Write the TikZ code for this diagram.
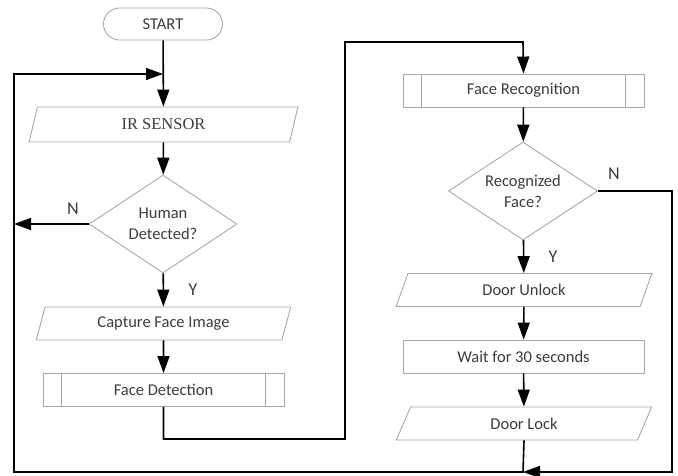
\documentclass[tikz,border=0pt]{standalone}
\usepackage{fontspec}
\setmainfont{Carlito}
\newfontfamily\irfont{Liberation Serif}
\usetikzlibrary{shapes.geometric,arrows.meta,positioning,calc}

\definecolor{boxline}{HTML}{A8A8A8}
\definecolor{boxtext}{HTML}{3C3C3C}

\tikzset{
    >={Triangle[length=17pt,width=12pt]},
    base/.style={draw=boxline, line width=0.9pt, text=boxtext, font=\fontsize{16.5}{18}\selectfont, inner sep=0pt},
    terminal/.style={base, rectangle, rounded corners=16pt, minimum width=119pt, minimum height=32pt},
    io/.style={base, trapezium, trapezium stretches=true, trapezium left angle=70, trapezium right angle=110, minimum height=33pt},
    process/.style={base, rectangle, minimum width=241pt, minimum height=33pt},
    decision/.style={base, diamond, aspect=1.5, minimum width=148pt, minimum height=98pt, align=center, font=\fontsize{16.5}{21}\selectfont},
    flow/.style={line width=1.6pt, black},
    branch/.style={text=boxtext, font=\fontsize{18}{20}\selectfont}
}

\begin{document}
\begin{tikzpicture}[x=1pt, y=-1pt]
    \useasboundingbox (0,0) rectangle (678,475);

    % left column
    \node[terminal] (start) at (163, 24) {START};
    \node[io, trapezium left angle=76, trapezium right angle=104, minimum width=271pt, minimum height=35pt,
          font=\irfont\fontsize{16.5}{18}\selectfont] (ir) at (163.5, 124.5) {IR SENSOR};
    \node[decision] (human) at (163, 224) {Human\\Detected?};
    \node[io, minimum width=255pt] (capture) at (163.5, 323.5) {Capture Face Image};
    \node[process] (fdet) at (163.5, 390) {Face Detection};

    % right column
    \node[process] (frec) at (523.5, 90.5) {Face Recognition};
    \node[decision, minimum width=149pt] (recog) at (523, 191) {Recognized\\Face?};
    \node[io, minimum width=256pt] (unlock) at (524, 290) {Door Unlock};
    \node[process] (wait) at (523.5, 356.5) {Wait for 30 seconds};
    \node[io, minimum width=256pt] (lock) at (524, 423.5) {Door Lock};

    % side bars of the subprocess boxes
    \foreach \n in {fdet, frec} {
        \draw[boxline, line width=0.9pt] ([xshift=19pt]\n.north west) -- ([xshift=19pt]\n.south west);
        \draw[boxline, line width=0.9pt] ([xshift=-19pt]\n.north east) -- ([xshift=-19pt]\n.south east);
    }

    % turning points of the connectors
    \coordinate (loopin) at (163, 74);
    \coordinate (leftbar) at (14, 224);
    \coordinate (bottomin) at (523, 472);

    \draw[flow, ->] (start) -- (ir);
    \draw[flow, ->] (ir) -- (human);
    \draw[flow, ->] (human.west) -- (leftbar);
    \draw[flow, ->] (human) -- (capture);
    \draw[flow, ->] (capture) -- (fdet);
    \draw[flow, ->] (fdet.south) |- (345, 439) |- (523, 42) -- (frec.north);
    \draw[flow, ->] (frec) -- (recog);
    \draw[flow, ->] (recog) -- (unlock);
    \draw[flow, ->] (unlock) -- (wait);
    \draw[flow, ->] (wait) -- (lock);
    \draw[flow, ->] (recog.east) -| (672, 472) -- (bottomin);
    \draw[flow, ->] (lock.south) -- (bottomin) -| (14, 74) -- (loopin);

    \node[branch] (hn) at (73, 209) {N};
    \node[branch] (hy) at (193, 290) {Y};
    \node[branch] (rn) at (614, 174) {N};
    \node[branch] (ry) at (553, 257) {Y};
\end{tikzpicture}
\end{document}
